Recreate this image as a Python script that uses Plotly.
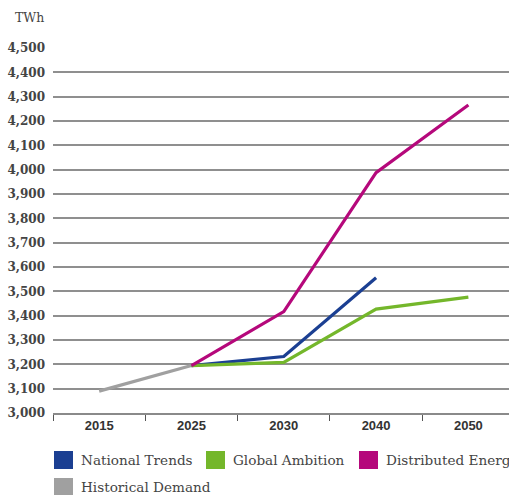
import plotly.graph_objects as go

# Electricity demand scenarios (TWh)
years = ["2015", "2025", "2030", "2040", "2050"]

historical = [3090, 3195, None, None, None]
national_trends = [None, 3195, 3232, 3556, None]
global_ambition = [None, 3195, 3208, 3427, 3476]
distributed_energy = [None, 3195, 3417, 3988, 4266]

series = [
    ("National Trends", national_trends, "#1b3f92"),
    ("Global Ambition", global_ambition, "#74b72b"),
    ("Distributed Energy", distributed_energy, "#b5087b"),
    ("Historical Demand", historical, "#a0a0a0"),
]

y_ticks = list(range(3000, 4501, 100))
y_labels = [f"{v:,}" for v in y_ticks]

fig = go.Figure()
# draw historical first so scenario lines sit on top
for name, vals, color in [series[3], series[0], series[1], series[2]]:
    fig.add_trace(go.Scatter(
        x=years, y=vals, name=name, mode="lines",
        line=dict(color=color, width=3.2),
        connectgaps=False, showlegend=False,
    ))

# legend drawn as coloured squares with labels beneath the plot
legend_pos = [(54, 460), (206, 460), (359, 460), (54, 487)]
for (name, _, color), (lx, ly) in zip(series, legend_pos):
    fig.add_shape(type="rect", xref="paper", yref="paper",
                  x0=(lx - 53) / 456, x1=(lx + 19 - 53) / 456,
                  y0=(413 - (ly + 9)) / 365, y1=(413 - (ly - 9)) / 365,
                  fillcolor=color, line=dict(width=0))
    fig.add_annotation(text=name, xref="paper", yref="paper",
                       x=(lx + 25 - 53) / 456, y=(413 - ly) / 365,
                       xanchor="left", yanchor="middle", showarrow=False,
                       font=dict(family="DejaVu Serif", size=13.6, color="#444444"))

fig.add_annotation(text="TWh", xref="paper", yref="paper",
                   x=(13 - 53) / 456, y=(413 - 18) / 365,
                   xanchor="left", yanchor="middle", showarrow=False,
                   font=dict(family="DejaVu Serif", size=12.5, color="#444444"))

fig.update_layout(
    width=509, height=495,
    margin=dict(l=53, r=0, t=48, b=82),
    paper_bgcolor="white", plot_bgcolor="white",
    xaxis=dict(
        type="category", range=[-0.5, 4.44],
        showgrid=False, showline=True, linecolor="#8a8a8a", linewidth=1.5,
        ticks="outside", tickson="boundaries", ticklen=6,
        tickcolor="#555555", tickwidth=1.2,
        tickfont=dict(family="Liberation Sans", size=13, color="#333333",
                      weight="bold"),
        fixedrange=True,
    ),
    yaxis=dict(
        range=[3000, 4500], tickvals=y_ticks, ticktext=y_labels,
        showgrid=True, gridcolor="#8f8f8f", gridwidth=1.6,
        zeroline=False, showline=False, ticks="", ticklabelstandoff=7,
        tickfont=dict(family="DejaVu Serif", size=12, color="#444444",
                      weight="bold"),
        fixedrange=True,
    ),
)

fig.write_html("out.html")
